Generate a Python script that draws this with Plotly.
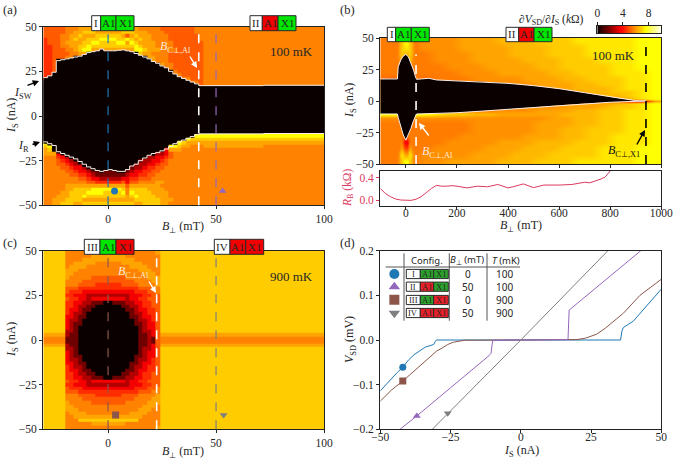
import plotly.graph_objects as go

W, H = 675, 460
SERIF = "Liberation Serif"
SANS = "Noto Sans"
DARK = "#262626"

# values of the hot scale, one per digit used in the grids below (kOhm)
LEVELS = [0, 1.5, 2.5, 3.5, 4.3, 5, 5.6, 6.1, 6.7, 7.5]
LEVELS_B = [3.5, 4.6, 5.2, 5.5, 5.8, 6.1, 6.4, 6.7, 7.1, 7.5]
HOT = [[0, "#0a0000"], [0.365, "#ff0000"], [0.746, "#ffff00"], [1, "#ffffff"]]
CB_LEVELS = [0, 0.5, 1, 1.5, 2, 2.5, 3, 3.5, 4, 4.5, 5, 5.5, 6, 6.5, 7, 7.5, 8, 8.5, 9, 9.5, 10]

# (a) 100 mK, rows from top to bottom
X_A = list(range(-30, 46, 2)) + [72, 100]
Y_A = list(range(-50, -8, 2)) + list(range(14, 52, 2))
ROWS_A = [
    "5555566677 7777777777 7766666555 555556666",
    "5555566778 8877777788 8777666655 555556666",
    "5555667787 7788888875 7877766665 555555666",
    "4555667877 8889999889 8787766665 555555666",
    "4555677778 8998888997 9877776666 555555566",
    "4455667788 9888888888 8987776666 555555566",
    "4455566789 9777777777 7998777666 655555566",
    "4455556677 0000000000 0087766665 555555566",
    "4455566000 0000000000 0000776665 555555566",
    "4450000000 0000000000 0000076665 555555566",
    "4450000000 0000000000 0000000766 555555566",
    "4450000000 0000000000 0000000066 555555566",
    "4450000000 0000000000 0000000000 655555566",
    "4400000000 0000000000 0000000000 665555566",
    "4000000000 0000000000 0000000000 006655566",
    "0000000000 0000000000 0000000000 000066566",
    "0000000000 0000000000 0000000000 000000566",
    "0000000000 0000000000 0000000000 000000066",
    "0000000000 0000000000 0000000000 000000000",
    "0000000000 0000000000 0000000000 000009999",
    "0000000000 0000000000 0000000000 000988888",
    "9000000000 0000000000 0000000000 098777777",
    "8990000000 0000000000 0000000009 987766676",
    "7880000000 0000000000 0000000037 776666666",
    "7773300000 0000000000 0000002235 666666666",
    "6664320000 0000000000 0000223345 666666666",
    "6665432200 0000000000 0012233456 666666666",
    "6665543221 0000000000 0122334556 666666666",
    "6666554332 1000000000 1223445566 666666666",
    "6666655433 2110111001 2334455666 666666666",
    "6666665544 3211111112 3344556666 666666666",
    "6666666655 4332222233 4455566666 666666666",
    "6666666666 5544444453 5566667766 666666666",
    "6666677777 7777777775 7777777666 666666666",
    "6666677888 8999999986 8888777766 666666666",
    "6666778888 9999888896 9888877776 666666666",
    "6667778889 8888888887 8988887776 666666666",
    "6677788887 7777777777 7888888777 666666666",
    "6677888778 8888888888 8778888776 666666666",
]
B_A = list(range(-30, 44, 2)) + [44, 72, 100]
I_SW_A = [21.5, 22.5, 24.5, 31, 31.5, 32, 32.5, 33, 33.5, 34.5, 35.5, 36, 36.5, 37.5, 36.5, 36.5, 36.5, 36.8, 37, 36.5,
          36, 35, 34, 33, 32, 30.5, 29.5, 28, 27, 25, 23.5, 22, 21, 20, 19, 18, 17, 17, 17.2, 17.5]
I_R_A = [-14.5, -15.5, -16.5, -20, -21, -22, -23, -24, -25.5, -27, -28.5, -29.5, -30.5, -31, -30.5, -30, -30.5, -31, -31, -30,
         -28, -27, -25, -23.5, -22, -21, -20.5, -19.5, -18.5, -17, -15.5, -14.5, -13.5, -12.5, -11.5, -10.5, -10, -10, -9.8, -9.7]

# (b) 100 mK, wide field (digits read through LEVELS_B)
X_B = [-100, -50, -40, -30, -20, -10, 0, 10, 20, 30, 40, 50] + list(range(100, 1050, 50))
Y_B = [-50, -45, -40, -35, -30, -25, -20, -15, -12, -9, -6, -3, -1, 1, 3, 6, 9, 12, 15, 20, 25, 30, 35, 40, 45, 50]
ROWS_B = [
    "33 357997533 4445556 6677788 88899",
    "33 357887533 4445555 6667778 88899",
    "33 357667533 3444555 6667778 88899",
    "33 346556433 3444555 5666777 88899",
    "33 333333333 3344455 5566777 78899",
    "33 333333333 3334445 5556677 78889",
    "22 333333333 2333444 4555667 77889",
    "33 333333333 2333344 4455566 77889",
    "33 333333333 3333334 4445566 67889",
    "33 333333333 3333333 4444556 67789",
    "33 333333333 3333333 3444455 66789",
    "33 333333333 3333333 3344444 55689",
    "33 333333333 3333333 3334444 42005",
    "33 333333333 3333333 3344455 56789",
    "33 333333333 3333333 3444555 67789",
    "33 333333333 3333334 4455566 77889",
    "99 999999999 9877665 5555666 77889",
    "44 444444444 4444444 4445566 77889",
    "33 333333333 3333444 4455566 77889",
    "33 333333333 3333444 4455667 77889",
    "33 333333333 3334444 4555667 78889",
    "33 333003333 3344445 5566677 78889",
    "33 335115333 3444455 5666777 88899",
    "33 358558533 4444555 6667777 88899",
    "33 357997533 4455556 6677788 88899",
]
B_B = [-100, -40, -33, -30, -20, -10, 0, 10, 20, 30, 38, 42, 60, 90, 120, 200, 300, 400, 500, 600, 700, 800, 850, 900, 940]
I_SW_B = [17.5, 17.8, 17.5, 27, 32.5, 35.7, 37, 35, 30, 24.6, 19, 17.2, 17.5, 18, 16.7, 16, 15.3, 14, 12.2, 9.8, 6.6, 3.2, 1.6, 0.3, 0]
I_R_B = [-10.3, -10.3, -10.3, -13, -20.4, -27, -31, -27, -21.7, -15.6, -11, -10.3, -10.2, -10, -10, -9.3, -8, -6.6, -5, -3.4, -2, -1, -0.6, -0.3, 0]

# (b) lower strip
B_RB = [-100, -80, -60, -40, -20, 0, 20, 40, 60, 80, 100, 120, 140, 160, 180, 200, 240, 280, 320, 360, 400, 420, 460, 500, 540,
        600, 650, 700, 720, 760, 780, 800]
R_B = [0.21, 0.12, 0.065, 0.024, 0.006, 0, 0, 0.02, 0.065, 0.135, 0.21, 0.265, 0.25, 0.25, 0.26, 0.25, 0.22, 0.25, 0.24, 0.28,
       0.22, 0.24, 0.29, 0.225, 0.27, 0.27, 0.28, 0.32, 0.31, 0.37, 0.41, 0.52]

# (c) 900 mK
X_C = [-30] + list(range(-20, 26, 2)) + [100]
Y_C = list(range(-50, 52, 2))
ROWS_C = [
    "8 6666666666 666666666667 8",
    "8 6666667777 777766666666 8",
    "8 6666777777 777777666666 8",
    "8 6677777666 666777776666 8",
    "8 6777766666 666667777666 8",
    "8 7776666666 666666677766 8",
    "8 7766666666 666666667776 8",
    "8 7666665555 555566666777 8",
    "8 6666555555 555555666677 8",
    "8 6665555444 444555566667 8",
    "8 5554444444 444444455566 8",
    "8 5444333333 333333444556 8",
    "8 4433322222 222223334455 8",
    "8 5443323333 333323344555 8",
    "8 4433221110 011122334455 8",
    "8 4432211000 000112234455 8",
    "8 4332110000 000011233445 8",
    "8 4322100000 000001223445 8",
    "8 3321100000 000001123345 8",
    "8 3221000000 000000122345 8",
    "8 3211000000 000000112335 8",
    "8 3210000000 000000012335 8",
    "8 2210000000 000000012235 8",
    "7 2110000000 000000011235 7",
    "6 1110000000 000000011215 6",
    "6 1110000000 000000011215 6",
    "7 2110000000 000000011235 7",
    "8 2210000000 000000012235 8",
    "8 3210000000 000000012335 8",
    "8 3211000000 000000112335 8",
    "8 3221000000 000000122345 8",
    "8 3321100000 000001123345 8",
    "8 4322100000 000001223445 8",
    "8 4332110000 000011233445 8",
    "8 4432211000 000112234455 8",
    "8 4433221110 011122334455 8",
    "8 5443323333 333323344555 8",
    "8 4433322222 222223334455 8",
    "8 5444333333 333333444556 8",
    "8 5554444444 444444455566 8",
    "8 6665555444 444555566667 8",
    "8 6666555555 555555666677 8",
    "8 7666665555 555566666777 8",
    "8 7766666666 666666667776 8",
    "8 7776666666 666666677766 8",
    "8 6777766666 666667777666 8",
    "8 6677777777 777777776666 8",
    "8 6668888888 888888866666 8",
    "8 6666667777 777766666666 8",
    "8 6666666666 666666666667 8",
]

# (d) V-I curves
I_BLUE = [-50, -46, -44, -42, -40, -38, -36, -34, -32, -31, -30.5, -30, 0, 35.5, 36, 36.5, 40, 45, 50]
V_BLUE = [-0.114, -0.085, -0.073, -0.061, -0.045, -0.033, -0.024, -0.016, -0.012, -0.01, -0.004, 0, 0, 0, 0.02, 0.028, 0.042, 0.077, 0.114]
I_PURPLE = [-43, -37, -11.3, -10.6, -10, 0, 16.8, 17.2, 42.7]
V_PURPLE = [-0.2, -0.17, -0.035, -0.03, -0.001, 0, 0.001, 0.067, 0.2]
I_BROWN = [-50, -46, -42, -38, -35, -32, -30, -28, -26, -24, -22, -20, 0, 20, 23, 25, 27, 30, 32, 36.5, 42.4, 50]
V_BROWN = [-0.137, -0.112, -0.092, -0.07, -0.052, -0.035, -0.025, -0.018, -0.01, -0.005, -0.002, -0.0005, 0, 0.001, 0.004, 0.008, 0.013, 0.026, 0.036, 0.06, 0.1, 0.136]
I_GRAY = [-31.5, 0, 31]
V_GRAY = [-0.2, 0, 0.2]

# table of panel (d)
CONFIGS = ["I", "II", "III", "IV"]
TABLE_B = ["0", "50", "0", "50"]
TABLE_T = ["100", "100", "900", "900"]
TABLE_AL = ["g", "r", "g", "r"]
TABLE_X1 = ["g", "g", "r", "r"]
SYMBOLS = ["circle", "triangle-up", "square", "triangle-down"]
COLORS = ["#1f77b4", "#9467bd", "#8c564b", "#7f7f7f"]
KEY_I = [-45, -45, -45, -45]
KEY_V = [0.148, 0.119, 0.09, 0.06]


def px(x):
    return x / W


def py(y):
    return 1 - y / H


def grid(rows, levels):
    cells = [[levels[int(c)] for c in r.replace(" ", "")] for r in rows]
    return cells[::-1]


fig = go.Figure()


def heat(x, y, rows, ax, levels=LEVELS, **kw):
    fig.add_trace(go.Heatmap(x=x, y=y, z=grid(rows, levels), zmin=0, zmax=10, colorscale=HOT, showscale=False,
                             xaxis="x" + ax, yaxis="y" + ax, **kw))


def lobe(b, top, bottom, ax, shape):
    fig.add_trace(go.Scatter(x=b + b[::-1], y=top + bottom[::-1], mode="none", fill="toself", fillcolor="#0a0000",
                             line_shape=shape, xaxis="x" + ax, yaxis="y" + ax, showlegend=False))
    for edge in (top, bottom):
        fig.add_trace(go.Scatter(x=b, y=edge, mode="lines", line=dict(color="#fbeee6", width=1, shape=shape),
                                 xaxis="x" + ax, yaxis="y" + ax, showlegend=False))


def marker(x, y, symbol, color, ax, size=7):
    fig.add_trace(go.Scatter(x=[x], y=[y], mode="markers", marker=dict(symbol=symbol, color=color, size=size),
                             xaxis="x" + ax, yaxis="y" + ax, showlegend=False))


heat(X_A, Y_A, ROWS_A, "")
lobe(B_A, I_SW_A, I_R_A, "", "hv")
heat(X_B, Y_B, ROWS_B, "2", levels=LEVELS_B, zsmooth="best")
lobe(B_B, I_SW_B, I_R_B, "2", "linear")
fig.add_trace(go.Scatter(x=B_RB, y=R_B, mode="lines", line=dict(color="#dc3a5e", width=1), xaxis="x3", yaxis="y3", showlegend=False))
heat(X_C, Y_C, ROWS_C, "4")
# colour bar of panel (b)
fig.add_trace(go.Heatmap(x=CB_LEVELS, y=[0], z=[CB_LEVELS], zmin=0, zmax=10, colorscale=HOT, showscale=False, zsmooth="best",
                         xaxis="x6", yaxis="y6"))

marker(3, -42, SYMBOLS[0], COLORS[0], "")
marker(53, -42, SYMBOLS[1], COLORS[1], "")
marker(3.5, -42, SYMBOLS[2], COLORS[2], "4")
marker(53.5, -42, SYMBOLS[3], COLORS[3], "4")

curves = [(I_BLUE, V_BLUE), (I_BROWN, V_BROWN), (I_PURPLE, V_PURPLE), (I_GRAY, V_GRAY)]
for (i, v), c in zip(curves, [COLORS[0], COLORS[2], COLORS[1], COLORS[3]]):
    fig.add_trace(go.Scatter(x=i, y=v, mode="lines", line=dict(color=c, width=1), xaxis="x5", yaxis="y5", showlegend=False))
marker(-42, -0.061, SYMBOLS[0], COLORS[0], "5")
marker(-42, -0.092, SYMBOLS[2], COLORS[2], "5")
marker(-37, -0.17, SYMBOLS[1], COLORS[1], "5")
marker(-26, -0.164, SYMBOLS[3], COLORS[3], "5")
for k in range(4):
    marker(KEY_I[k], KEY_V[k], SYMBOLS[k], COLORS[k], "5", size=10)


def axis(x0, x1, rng, ticks, anchor, horizontal, labels=True, color=DARK, **kw):
    d = [px(x0), px(x1)] if horizontal else [py(x1), py(x0)]
    return dict(domain=d, range=rng, tickvals=ticks, ticks="outside", ticklen=3, tickwidth=1, tickcolor=color,
                showticklabels=labels, showgrid=False, zeroline=False, mirror=True, showline=True, linecolor="#222222",
                linewidth=1.3, anchor=anchor, tickfont=dict(family=SERIF, size=11.5, color=color), **kw)


IV_TICKS = [-50, -25, 0, 25, 50]
layout = dict(
    xaxis=axis(43.3, 324, [-30, 100], [0, 50, 100], "y", True),
    yaxis=axis(26.7, 205.3, [-50, 50], IV_TICKS, "x", False),
    xaxis2=axis(380.3, 661.3, [-100, 1000], [0, 200, 400, 600, 800, 1000], "y2", True, labels=False),
    yaxis2=axis(38, 164, [-50, 50], IV_TICKS, "x2", False),
    xaxis3=axis(380.3, 661.3, [-100, 1000], [0, 200, 400, 600, 800, 1000], "y3", True, ticklabelstandoff=-7),
    yaxis3=axis(171, 205.7, [-0.094, 0.518], [0, 0.4], "x3", False, color="#dc3a5e", tickformat=".1f"),
    xaxis4=axis(43.3, 324, [-30, 100], [0, 50, 100], "y4", True),
    yaxis4=axis(250.7, 429.3, [-50, 50], IV_TICKS, "x4", False),
    xaxis5=axis(380.3, 661.3, [-50, 50], IV_TICKS, "y5", True, ticklabelstandoff=-6),
    yaxis5=axis(250.7, 429.3, [-0.2, 0.2], [-0.2, -0.1, 0, 0.1, 0.2], "x5", False, tickformat=".1f"),
    xaxis6=axis(597.3, 661.3, [0, 10], [0, 4, 8], "y6", True, side="top"),
    yaxis6=axis(26, 33, [-0.5, 0.5], [], "x6", False, labels=False),
)

shapes = []
notes = []


def note(x, y, text, size=11.5, color=DARK, family=SERIF, angle=0):
    notes.append(dict(x=px(x), y=py(y), xref="paper", yref="paper", xanchor="center", yanchor="middle", text=text,
                      showarrow=False, textangle=angle, font=dict(family=family, size=size, color=color)))


def arrow(x0, y0, x1, y1, color):
    notes.append(dict(x=px(x1), y=py(y1), xref="paper", yref="paper", ax=x0 - x1, ay=y0 - y1, text="", showarrow=True,
                      arrowhead=2, arrowsize=0.9, arrowwidth=1.4, arrowcolor=color))


def box(x0, x1, y0, y1, fill, text, size=11, border="#2a2a2a"):
    shapes.append(dict(type="rect", xref="paper", yref="paper", x0=px(x0), x1=px(x1), y0=py(y1), y1=py(y0),
                       fillcolor=fill, line=dict(color=border, width=1), layer="above"))
    note((x0 + x1) / 2, (y0 + y1) / 2, text, size=size)


def tag(xs, y0, y1, name, al, x1):
    box(xs[0], xs[1], y0, y1, "white", name)
    box(xs[1], xs[2], y0, y1, al, "A1")
    box(xs[2], xs[3], y0, y1, x1, "X1")


def vline(ax, x, color, width=1.2, top=1, dash="dash"):
    shapes.append(dict(type="line", xref=ax, yref=ax.replace("x", "y") + " domain", x0=x, x1=x, y0=0, y1=top,
                       line=dict(color=color, width=width, dash=dash), layer="above"))


GREEN, RED = "#00e600", "#f00000"
tag([91.7, 100.7, 116, 134], 15.7, 30.7, "I", GREEN, GREEN)
tag([250, 262.3, 278, 296], 15.7, 30.7, "II", RED, GREEN)
tag([387.3, 395.7, 411.3, 429.3], 27.3, 41.7, "I", GREEN, GREEN)
tag([506, 518.7, 534, 552], 27.3, 41.7, "II", RED, GREEN)
tag([84.3, 100, 116, 134], 239.3, 254.3, "III", GREEN, RED)
tag([214.3, 230, 245.7, 263.7], 239.3, 254.3, "IV", RED, RED)

vline("x", 0, COLORS[0])
vline("x", 50, COLORS[1])
vline("x", 42, "white", 1.6)
vline("x2", 40, "white", 1.6, top=0.87)
vline("x2", 940, "black", 1.6)
vline("x4", 0, COLORS[2])
vline("x4", 50, COLORS[3])
vline("x4", 22.5, "white", 1.6)

BC = "<i>B</i><sub>C⊥,%s</sub>"
IS = "<i>I</i><sub>S</sub> (nA)"
BP = "<i>B</i><sub>⊥</sub> (mT)"
for label, x, y in [("(a)", 10, 10), ("(b)", 347, 10), ("(c)", 10, 243), ("(d)", 347, 243)]:
    note(x, y, label, size=12.5)
note(291, 51, "100 mK", size=13)
note(613, 56, "100 mK", size=13)
note(291, 276, "900 mK", size=13)
note(176, 47, BC % "Al", size=12, color="#ffe9dc")
note(437, 152, BC % "Al", size=12, color="#ffe9dc")
note(624, 151, BC % "X1", size=12, color="#111111")
note(133, 272, BC % "Al", size=12, color="#ffe9dc")
arrow(189, 55, 197, 68, "white")
arrow(430, 137, 419, 123, "white")
arrow(636, 146, 645, 130, "black")
arrow(148, 280, 156, 293, "white")
arrow(26, 86, 39, 81, "black")
arrow(31, 145, 40, 142, "black")
note(23, 93, "<i>I</i><sub>SW</sub>", size=12)
note(23, 146, "<i>I</i><sub>R</sub>", size=12)
note(12, 116, IS, angle=-90, size=12)
note(12, 340, IS, angle=-90, size=12)
note(350, 101, IS, angle=-90, size=12)
note(348, 188, "<i>R</i><sub>B</sub> (kΩ)", angle=-90, size=11.5, color="#dc3a5e")
note(350, 340, "<i>V</i><sub>SD</sub> (mV)", angle=-90, size=12)
note(183, 227, BP, size=12)
note(183, 452, BP, size=12)
note(521, 226, BP, size=12)
note(521, 450.5, "<i>I</i><sub>S</sub> (nA)", size=12)
note(551, 20, "∂<i>V</i><sub>SD</sub>/∂<i>I</i><sub>S</sub> (<i>k</i>Ω)", size=11.5)

# table in panel (d)
for x in [404, 449.3, 487]:
    shapes.append(dict(type="line", xref="paper", yref="paper", x0=px(x), x1=px(x), y0=py(320.7), y1=py(253.3),
                       line=dict(color="#555555", width=1), layer="above"))
shapes.append(dict(type="line", xref="paper", yref="paper", x0=px(385.7), x1=px(520), y0=py(267), y1=py(267),
                   line=dict(color="#555555", width=1), layer="above"))
note(426.7, 260.3, "Config.", size=9.5, family=SANS)
note(467, 260.3, "<i>B</i><sub>⊥</sub> (mT)", size=9.5, family=SANS)
note(505.7, 260.3, "<i>T</i> (mK)", size=9.5, family=SANS)
FILLS = {"g": "#2ca02c", "r": "#e8202a"}
for k, y in enumerate([274, 286.7, 300, 313]):
    box(406.3, 420.3, y - 4.6, y + 4.6, "white", CONFIGS[k], size=8.5)
    box(420.3, 433.7, y - 4.6, y + 4.6, FILLS[TABLE_AL[k]], "A1", size=8.5)
    box(433.7, 448.3, y - 4.6, y + 4.6, FILLS[TABLE_X1[k]], "X1", size=8.5)
    note(467.7, y, TABLE_B[k], size=10, family=SANS)
    note(504, y, TABLE_T[k], size=10, family=SANS)

fig.update_layout(width=W, height=H, margin=dict(l=0, r=0, t=0, b=0, autoexpand=False), paper_bgcolor="white",
                  plot_bgcolor="white", showlegend=False, shapes=shapes, annotations=notes, **layout)
fig.write_html("out.html", config={"displayModeBar": False}, post_script="document.body.style.margin = '0';")
